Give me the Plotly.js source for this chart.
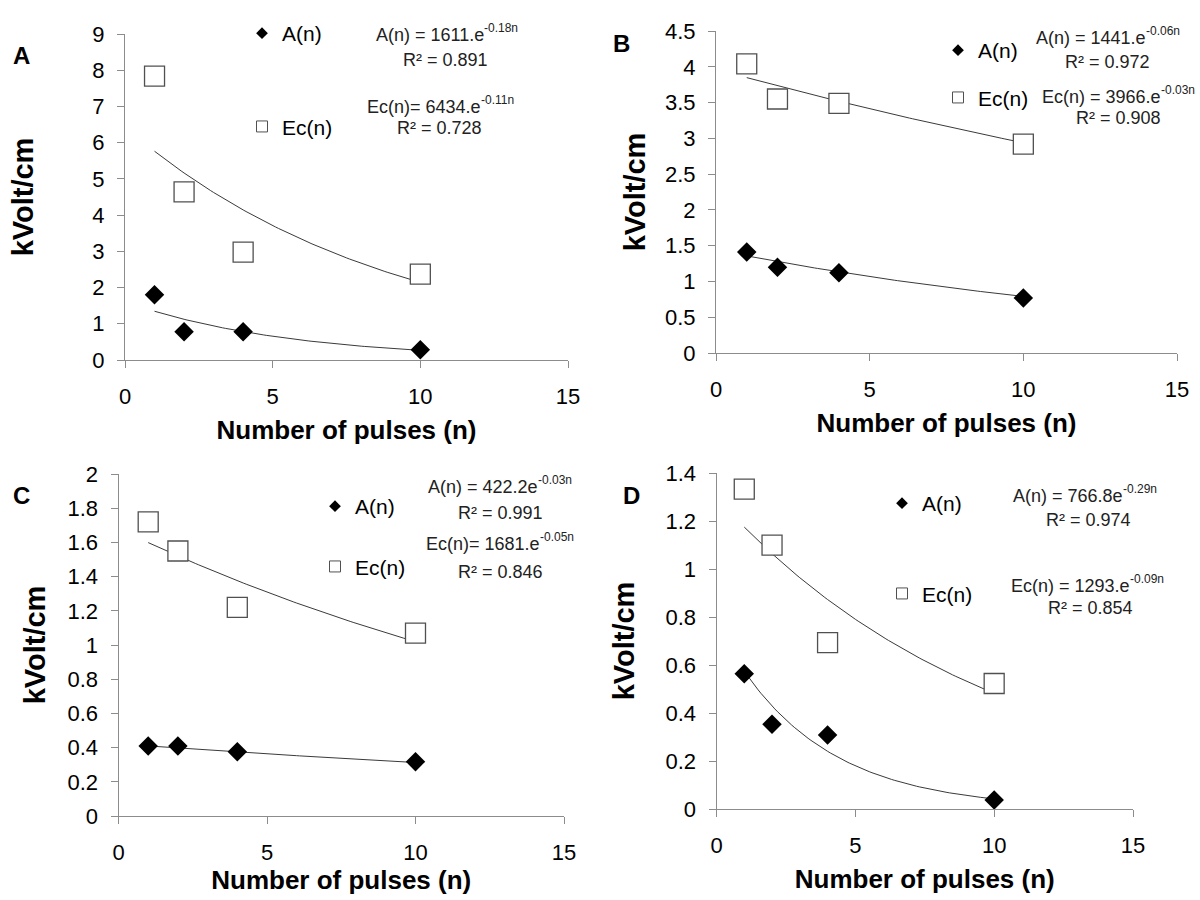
<!DOCTYPE html>
<html><head><meta charset="utf-8">
<script src="https://cdn.plot.ly/plotly-3.0.1.min.js"></script>
<style>html,body{margin:0;padding:0;background:#fff}</style>
</head><body><div id="chart" style="width:1200px;height:900px"></div>
<script>
// ---------- data ----------
const pulses = [1, 2, 4, 10];
const panelLabels = ['A', 'B', 'C', 'D'];
// A(n) values (kVolt/cm) per panel
const anA = [1.80, 0.78, 0.78, 0.28];
const anB = [1.41, 1.20, 1.12, 0.77];
const anC = [0.41, 0.41, 0.376, 0.318];
const anD = [0.564, 0.353, 0.308, 0.037];
// Ec(n) values (kVolt/cm) per panel
const ecA = [7.84, 4.64, 2.98, 2.37];
const ecB = [4.04, 3.55, 3.49, 2.92];
const ecC = [1.72, 1.55, 1.22, 1.07];
const ecD = [1.333, 1.10, 0.693, 0.523];
// exponential trend lines y = amp * exp(rate * n), kVolt/cm, drawn n = 1..10
const fitAmpAn = [1.611, 1.441, 0.4222, 0.7668];
const fitRateAn = [-0.18, -0.06, -0.03, -0.29];
const fitAmpEc = [6.434, 3.966, 1.681, 1.297];
const fitRateEc = [-0.11, -0.03, -0.05, -0.099];
// equation labels (base text + exponent)
const eqBaseAn = ['A(n) = 1611.e', 'A(n) = 1441.e', 'A(n) = 422.2e', 'A(n) = 766.8e'];
const eqExpAn = ['-0.18n', '-0.06n', '-0.03n', '-0.29n'];
const r2An = ['R² = 0.891', 'R² = 0.972', 'R² = 0.991', 'R² = 0.974'];
const eqBaseEc = ['Ec(n)= 6434.e', 'Ec(n) = 3966.e', 'Ec(n)= 1681.e', 'Ec(n) = 1293.e'];
const eqExpEc = ['-0.11n', '-0.03n', '-0.05n', '-0.09n'];
const r2Ec = ['R² = 0.728', 'R² = 0.908', 'R² = 0.846', 'R² = 0.854'];
// axis scales
const yMax = [9, 4.5, 2, 1.4];
const yStep = [1, 0.5, 0.2, 0.2];
const xMax = 15, xStep = 5;
const xTitle = 'Number of pulses (n)';
const yTitle = 'kVolt/cm';
const legendNames = ['A(n)', 'Ec(n)'];

// ---------- layout geometry (pixels in 1200x900 page) ----------
const W = 1200, H = 900;
const plotBox = [ // left, right, top, bottom
  [125, 568, 34, 360],
  [716, 1177, 31, 353],
  [118.5, 564, 474, 816],
  [716.5, 1133, 473, 809]
];
const yTitleStandoff = [50, 10, 13, 22];
const xTitleStandoff = [12, 12, 5, 12];
const labelPos = [[21, 56], [621, 44], [21, 495], [632, 495]];
const legendPos = [[262, 31, 63], [958, 48, 17], [335, 504, 30], [902, 501, 60]]; // symbol x, first item y, gap
// equation split x (end of base text), base y; R² centre x, y
const eqAnPos = [[484, 35], [1146, 38], [538, 487], [1123, 496]];
const eqEcPos = [[481, 107], [1161, 97], [540, 544], [1130, 586]];
const r2AnPos = [[445, 60], [1107, 62], [500, 513], [1088, 520]];
const r2EcPos = [[440, 128], [1118, 118], [500, 572], [1090, 608]];

const anAll = [anA, anB, anC, anD];
const ecAll = [ecA, ecB, ecC, ecD];
const FONT = 'Liberation Sans, Arial, sans-serif';
const EQ_COLOR = '#222222';

const traces = [];
const layout = {
  width: W, height: H,
  margin: {l: 0, r: 0, t: 0, b: 0},
  paper_bgcolor: '#ffffff', plot_bgcolor: '#ffffff',
  font: {family: FONT, color: '#000'},
  annotations: [],
  showlegend: true
};

function trend(amp, rate) {
  const xs = [], ys = [];
  for (let k = 0; k <= 90; k++) {
    const n = 1 + k * 0.1;
    xs.push(n); ys.push(amp * Math.exp(rate * n));
  }
  return {xs, ys};
}

function addText(px, py, text, size, xanchor, bold, shift) {
  layout.annotations.push({
    xref: 'paper', yref: 'paper', x: px / W, y: 1 - py / H,
    text: text, showarrow: false, xanchor: xanchor, yanchor: 'middle',
    xshift: shift || 0, borderpad: 0,
    font: {family: FONT, size: size, weight: bold ? 'bold' : 'normal', color: bold ? '#000000' : EQ_COLOR}
  });
}

for (let p = 0; p < 4; p++) {
  const sfx = p === 0 ? '' : String(p + 1);
  const xa = 'x' + sfx, ya = 'y' + sfx;
  const lg = 'legend' + sfx;
  const [l, r, t, b] = plotBox[p];

  const tA = trend(fitAmpAn[p], fitRateAn[p]);
  const tE = trend(fitAmpEc[p], fitRateEc[p]);
  [tA, tE].forEach(tr => traces.push({
    x: tr.xs, y: tr.ys, xaxis: xa, yaxis: ya, mode: 'lines', type: 'scatter',
    line: {color: '#3a3a3a', width: 1}, showlegend: false, hoverinfo: 'skip'
  }));
  traces.push({
    x: pulses, y: ecAll[p], xaxis: xa, yaxis: ya, mode: 'markers', type: 'scatter',
    marker: {symbol: 'square', size: 20, color: '#ffffff', line: {color: '#505050', width: 1.3}},
    showlegend: false, cliponaxis: false
  });
  traces.push({
    x: pulses, y: anAll[p], xaxis: xa, yaxis: ya, mode: 'markers', type: 'scatter',
    marker: {symbol: 'diamond', size: 15, color: '#000000'},
    showlegend: false, cliponaxis: false
  });
  // legend entries
  traces.push({
    x: [null], y: [null], xaxis: xa, yaxis: ya, mode: 'markers', type: 'scatter',
    name: legendNames[0], legend: lg, legendgroup: 'a' + p,
    marker: {symbol: 'diamond', size: 9, color: '#000000'}
  });
  traces.push({
    x: [null], y: [null], xaxis: xa, yaxis: ya, mode: 'markers', type: 'scatter',
    name: legendNames[1], legend: lg, legendgroup: 'e' + p,
    marker: {symbol: 'square', size: 11, color: '#ffffff', line: {color: '#505050', width: 1}}
  });

  const [sx, sy, gap] = legendPos[p];
  layout[lg] = {
    x: (sx - 20) / W, y: 1 - (sy - 18) / H, xanchor: 'left', yanchor: 'top',
    bgcolor: 'rgba(0,0,0,0)', borderwidth: 0,
    font: {family: FONT, size: 21, color: '#000'},
    traceorder: 'grouped', tracegroupgap: gap, itemsizing: 'trace'
  };

  layout['xaxis' + sfx] = {
    domain: [l / W, r / W], anchor: ya, range: [0, xMax], dtick: xStep, tick0: 0,
    showgrid: false, zeroline: false, showline: true, linecolor: '#8c8c8c', linewidth: 1,
    ticks: 'outside', ticklen: 7, tickcolor: '#8c8c8c', ticklabelstandoff: 10,
    tickfont: {family: FONT, size: 22, color: '#000'},
    title: {text: xTitle, standoff: xTitleStandoff[p], font: {family: FONT, size: 26, weight: 'bold', color: '#000'}}
  };
  layout['yaxis' + sfx] = {
    domain: [1 - b / H, 1 - t / H], anchor: xa, range: [0, yMax[p] * 1.0001], dtick: yStep[p], tick0: 0,
    showgrid: false, zeroline: false, showline: true, linecolor: '#8c8c8c', linewidth: 1,
    ticks: 'outside', ticklen: 7, tickcolor: '#8c8c8c', ticklabelstandoff: 8,
    tickfont: {family: FONT, size: 22, color: '#000'},
    title: {text: yTitle, standoff: yTitleStandoff[p], font: {family: FONT, size: 29, weight: 'bold', color: '#000'}}
  };

  addText(labelPos[p][0], labelPos[p][1], panelLabels[p], 24, 'center', true, 0);
  addText(eqAnPos[p][0], eqAnPos[p][1], eqBaseAn[p], 18, 'right', false, 1);
  addText(eqAnPos[p][0], eqAnPos[p][1] - 7, eqExpAn[p], 12, 'left', false, -1);
  addText(r2AnPos[p][0], r2AnPos[p][1], r2An[p], 18, 'center', false, 0);
  addText(eqEcPos[p][0], eqEcPos[p][1], eqBaseEc[p], 18, 'right', false, 1);
  addText(eqEcPos[p][0], eqEcPos[p][1] - 7, eqExpEc[p], 12, 'left', false, -1);
  addText(r2EcPos[p][0], r2EcPos[p][1], r2Ec[p], 18, 'center', false, 0);
}

Plotly.newPlot('chart', traces, layout, {displayModeBar: false, staticPlot: true});
</script>
</body></html>
